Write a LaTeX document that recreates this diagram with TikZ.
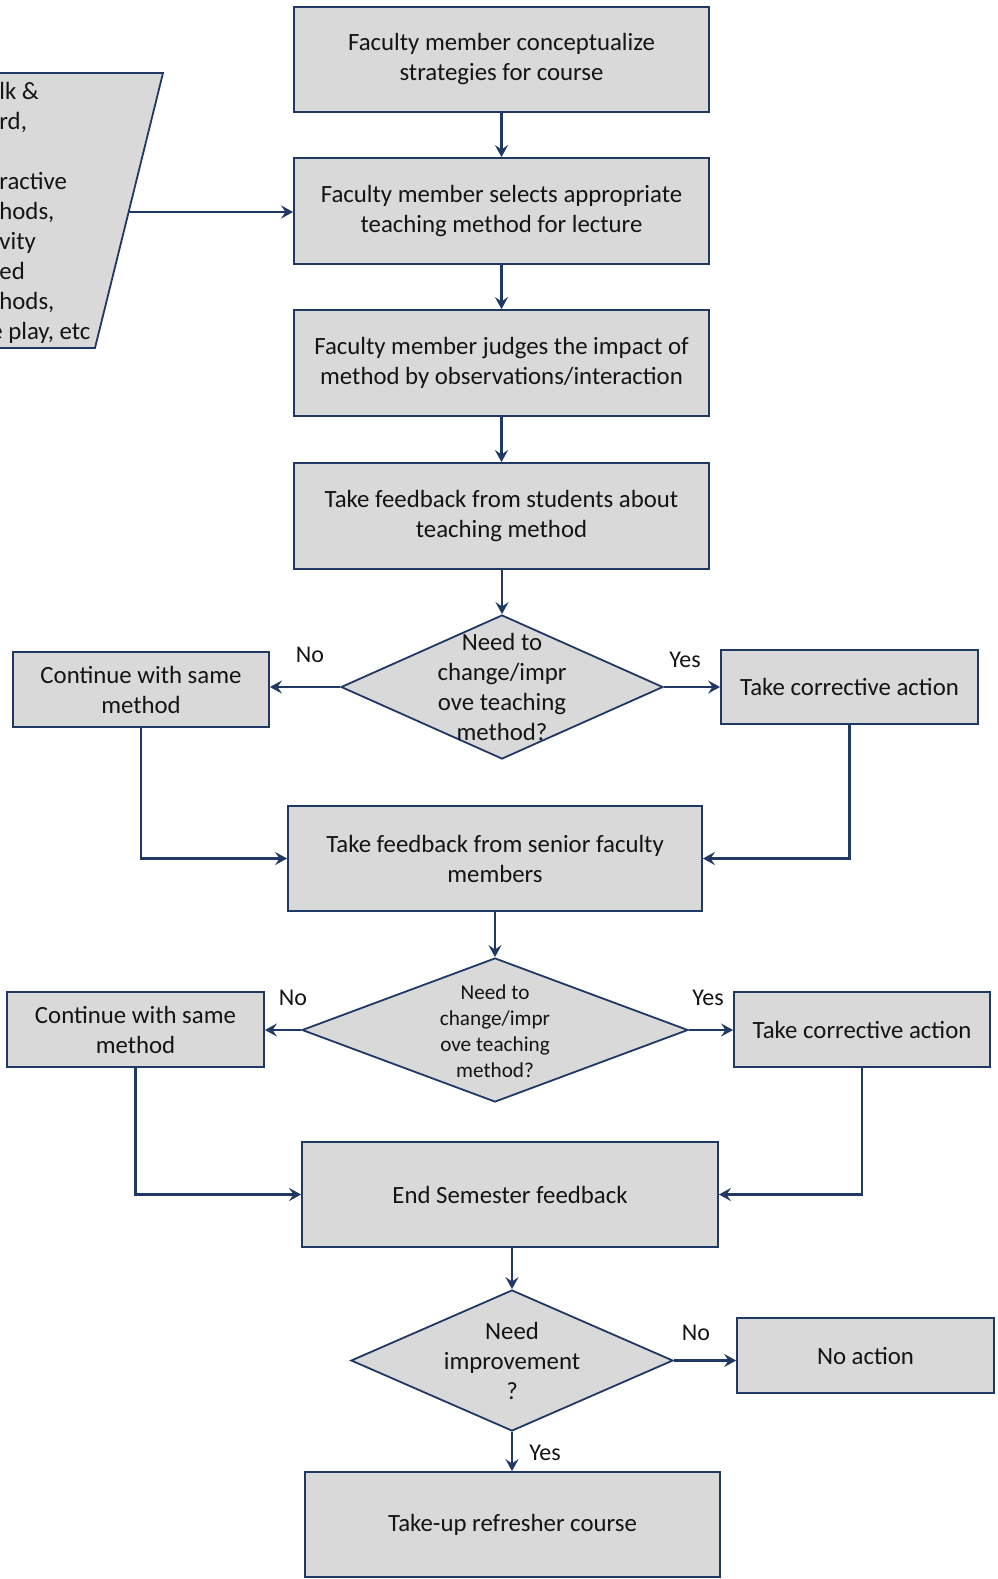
\documentclass[tikz,border=0pt]{standalone}
\usepackage{fontspec}
\setmainfont{Carlito}
\usetikzlibrary{shapes.geometric,arrows.meta,calc}
\definecolor{navy}{RGB}{31,56,100}
\definecolor{boxgray}{RGB}{217,217,217}
\definecolor{txt}{RGB}{20,20,20}
\begin{document}
\begin{tikzpicture}[x=0.5pt,y=-0.5pt,
  box/.style={rectangle, draw=navy, fill=boxgray, line width=0.9pt, align=center, text=txt, inner sep=0pt, font=\fontsize{12.4}{15}\selectfont},
  dec/.style={diamond, draw=navy, fill=boxgray, line width=0.9pt, inner sep=0pt},
  dtext/.style={align=center, text=txt, inner sep=0pt, font=\fontsize{12.4}{15}\selectfont},
  dtextsmall/.style={align=center, text=txt, inner sep=0pt, font=\fontsize{10.6}{13}\selectfont},
  lab/.style={text=txt, inner sep=0pt, font=\fontsize{12}{14}\selectfont},
  conn/.style={draw=navy, line width=1.35pt, -{Stealth[length=6pt,width=6.5pt,inset=2.2pt]}}]
\useasboundingbox (0,0) rectangle (997,1579);
\clip (0,0) rectangle (997,1579);
\fill[white] (0,0) rectangle (997,1579);

% left parallelogram (cut off by the page edge)
\draw[draw=navy, fill=boxgray, line width=0.9pt] (-20,73) -- (163,73) -- (95,348) -- (-20,348) -- cycle;
\node[anchor=west, align=left, text=txt, inner sep=0pt, font=\fontsize{12.4}{15}\selectfont] (ptext) at (-1,213)
  {lk \&\\rd,\\\mbox{}\\ractive\\hods,\\vity\\ed\\hods,\\\hspace*{-4.5pt}e play, etc};
\coordinate (pout) at (128,212);

% main column
\node[box, minimum width=207.5pt, minimum height=52.5pt] (b1) at (501.5,59.5) {Faculty member conceptualize\\strategies for course};
\node[box, minimum width=207.5pt, minimum height=53pt] (b2) at (501.5,211) {Faculty member selects appropriate\\teaching method for lecture};
\node[box, minimum width=207.5pt, minimum height=53pt] (b3) at (501.5,363) {Faculty member judges the impact of\\method by observations/interaction};
\node[box, minimum width=207.5pt, minimum height=53pt] (b4) at (501.5,516) {Take feedback from students about\\teaching method};

\node[dec, minimum width=161pt, minimum height=72pt] (d1) at (502,687) {};
\node[dtext] (d1t) at (502,687) {Need to\\change/impr\\ove teaching\\method?};
\node[box, minimum width=128pt, minimum height=37.5pt] (c1) at (141,689.5) {Continue with same\\method};
\node[box, minimum width=128.5pt, minimum height=37pt] (r1) at (849.5,687) {Take corrective action};

\node[box, minimum width=207pt, minimum height=52.5pt] (b5) at (495,858.5) {Take feedback from senior faculty\\members};

\node[dec, minimum width=193pt, minimum height=72pt] (d2) at (495,1030) {};
\node[dtextsmall] (d2t) at (495,1031) {Need to\\change/impr\\ove teaching\\method?};
\node[box, minimum width=128.5pt, minimum height=37.5pt] (c2) at (135.5,1029.5) {Continue with same\\method};
\node[box, minimum width=128pt, minimum height=37.5pt] (r2) at (862,1029.5) {Take corrective action};

\node[box, minimum width=208pt, minimum height=52.5pt] (b6) at (510,1194.5) {End Semester feedback};

\node[dec, minimum width=161pt, minimum height=70.5pt] (d3) at (512,1360.5) {};
\node[dtext] (d3t) at (512,1361) {Need\\improvement\\?};
\node[box, minimum width=128.5pt, minimum height=37.5pt] (na) at (865.5,1355.5) {No action};
\node[box, minimum width=207.5pt, minimum height=52.5pt] (b7) at (512.5,1524.5) {Take-up refresher course};

% connectors
\draw[conn] (pout) -- (pout -| b2.west);
\draw[conn] (b1) -- (b2);
\draw[conn] (b2) -- (b3);
\draw[conn] (b3) -- (b4);
\draw[conn] (b4.south -| d1.north) -- (d1.north);

\draw[conn] (d1.west) -- (d1.west -| c1.east);
\draw[conn] (d1.east) -- (d1.east -| r1.west);
\draw[conn] (c1.south) |- (b5.west);
\draw[conn] (r1.south) |- (b5.east);

\draw[conn] (b5.south) -- (d2.north);
\draw[conn] (d2.west) -- (d2.west -| c2.east);
\draw[conn] (d2.east) -- (d2.east -| r2.west);
\draw[conn] (c2.south) |- (b6.west);
\draw[conn] (r2.south) |- (b6.east);

\draw[conn] (b6.south -| d3.north) -- (d3.north);
\draw[conn] (d3.east) -- (d3.east -| na.west);
\draw[conn] (d3.south) -- (d3.south |- b7.north);

% labels
\node[lab] (l1) at (310,655) {No};
\node[lab] (l2) at (685,660) {Yes};
\node[lab] (l3) at (293,998) {No};
\node[lab] (l4) at (708,998) {Yes};
\node[lab] (l5) at (696,1333) {No};
\node[lab] (l6) at (545,1453) {Yes};
\end{tikzpicture}
\end{document}
